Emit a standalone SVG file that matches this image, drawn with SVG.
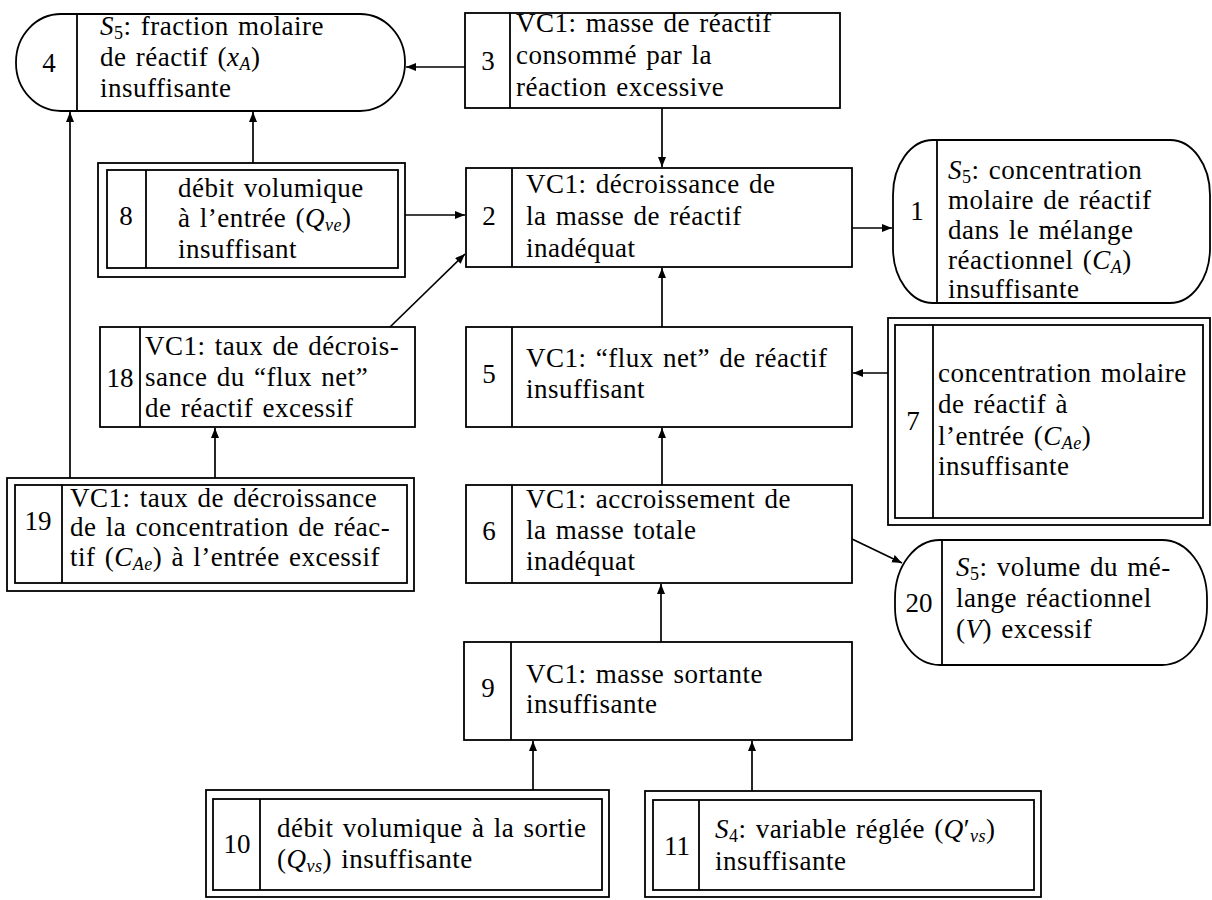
<svg xmlns="http://www.w3.org/2000/svg" width="1212" height="900" viewBox="0 0 1212 900">
<style>
.bg{fill:#fff}
.b{fill:#fff;stroke:#000;stroke-width:1.8}
.d{stroke:#000;stroke-width:1.8;fill:none}
.t{font-family:"Liberation Serif","Times New Roman","DejaVu Serif",serif;font-size:27px;fill:#000;letter-spacing:0.5px;word-spacing:2px}
.n{font-family:"Liberation Serif","Times New Roman","DejaVu Serif",serif;font-size:27px;fill:#000;text-anchor:middle}
.i{font-style:italic}
.s{font-size:18px}
.si{font-size:18px;font-style:italic}
.c{stroke:#000;stroke-width:1.7;fill:none;marker-end:url(#ah)}
</style>
<defs>
<marker id="ah" markerUnits="userSpaceOnUse" markerWidth="12" markerHeight="10" refX="10" refY="4" orient="auto">
<path d="M0,0 L10,4 L0,8 z" fill="#000"/>
</marker>
</defs>
<rect class="bg" x="0" y="0" width="1212" height="900"/>

<g id="connectors">
<line class="c" x1="465" y1="67" x2="406" y2="67"/>
<line class="c" x1="662" y1="108" x2="662" y2="167"/>
<line class="c" x1="253" y1="163" x2="253" y2="112"/>
<line class="c" x1="405" y1="215" x2="465" y2="215"/>
<line class="c" x1="852" y1="228" x2="892" y2="228"/>
<line class="c" x1="390" y1="327" x2="465" y2="254"/>
<line class="c" x1="662" y1="327" x2="662" y2="268"/>
<line class="c" x1="888" y1="373" x2="853" y2="373"/>
<line class="c" x1="70" y1="478" x2="70" y2="112"/>
<line class="c" x1="215" y1="478" x2="215" y2="428"/>
<line class="c" x1="662" y1="485" x2="662" y2="428"/>
<line class="c" x1="852" y1="539" x2="902" y2="563"/>
<line class="c" x1="661" y1="642" x2="661" y2="584"/>
<line class="c" x1="533" y1="790" x2="533" y2="741"/>
<line class="c" x1="752" y1="791" x2="752" y2="741"/>
</g>

<g id="node4">
<rect class="b" x="16" y="14" width="389" height="97" rx="45" ry="48"/>
<line class="d" x1="77" y1="14" x2="77" y2="111"/>
<text class="n" x="49" y="72">4</text>
<text class="t" x="100" y="35"><tspan class="i">S</tspan><tspan class="s" dy="4">5</tspan><tspan dy="-4">: fraction molaire</tspan></text>
<text class="t" x="100" y="66">de réactif (<tspan class="i">x</tspan><tspan class="si" dy="4">A</tspan><tspan dy="-4">)</tspan></text>
<text class="t" x="100" y="97">insuffisante</text>
</g>

<g id="node3">
<rect class="b" x="465" y="13" width="375" height="95"/>
<line class="d" x1="510" y1="13" x2="510" y2="108"/>
<text class="n" x="488" y="70">3</text>
<text class="t" x="516" y="32">VC1: masse de réactif</text>
<text class="t" x="516" y="64">consommé par la</text>
<text class="t" x="516" y="96">réaction excessive</text>
</g>

<g id="node8">
<rect class="b" x="98" y="163" width="307" height="114"/>
<rect class="b" x="107" y="170" width="291" height="98"/>
<line class="d" x1="146" y1="170" x2="146" y2="268"/>
<text class="n" x="126" y="225">8</text>
<text class="t" x="178" y="197">débit volumique</text>
<text class="t" x="178" y="227">à l’entrée (<tspan class="i">Q</tspan><tspan class="si" dy="4">ve</tspan><tspan dy="-4">)</tspan></text>
<text class="t" x="178" y="258">insuffisant</text>
</g>

<g id="node2">
<rect class="b" x="466" y="168" width="386" height="99"/>
<line class="d" x1="512" y1="168" x2="512" y2="267"/>
<text class="n" x="489" y="225">2</text>
<text class="t" x="526" y="193">VC1: décroissance de</text>
<text class="t" x="526" y="225">la masse de réactif</text>
<text class="t" x="526" y="257">inadéquat</text>
</g>

<g id="node1">
<rect class="b" x="893" y="140" width="317" height="163" rx="40" ry="55"/>
<line class="d" x1="937" y1="140" x2="937" y2="303"/>
<text class="n" x="917" y="220">1</text>
<text class="t" x="948" y="179"><tspan class="i">S</tspan><tspan class="s" dy="4">5</tspan><tspan dy="-4">: concentration</tspan></text>
<text class="t" x="948" y="209">molaire de réactif</text>
<text class="t" x="948" y="239">dans le mélange</text>
<text class="t" x="948" y="269">réactionnel (<tspan class="i">C</tspan><tspan class="si" dy="4">A</tspan><tspan dy="-4">)</tspan></text>
<text class="t" x="948" y="298">insuffisante</text>
</g>

<g id="node18">
<rect class="b" x="100" y="327" width="315" height="100"/>
<line class="d" x1="140" y1="327" x2="140" y2="427"/>
<text class="n" x="120" y="387">18</text>
<text class="t" x="145" y="355">VC1: taux de décrois-</text>
<text class="t" x="145" y="386">sance du “flux net”</text>
<text class="t" x="145" y="417">de réactif excessif</text>
</g>

<g id="node5">
<rect class="b" x="466" y="327" width="386" height="100"/>
<line class="d" x1="512" y1="327" x2="512" y2="427"/>
<text class="n" x="489" y="383">5</text>
<text class="t" x="526" y="367">VC1: “flux net” de réactif</text>
<text class="t" x="526" y="398">insuffisant</text>
</g>

<g id="node7">
<rect class="b" x="888" y="318" width="322" height="207"/>
<rect class="b" x="895" y="325" width="308" height="193"/>
<line class="d" x1="933" y1="325" x2="933" y2="518"/>
<text class="n" x="913" y="430">7</text>
<text class="t" x="938" y="382">concentration molaire</text>
<text class="t" x="938" y="413">de réactif à</text>
<text class="t" x="938" y="445">l’entrée (<tspan class="i">C</tspan><tspan class="si" dy="4">Ae</tspan><tspan dy="-4">)</tspan></text>
<text class="t" x="938" y="475">insuffisante</text>
</g>

<g id="node19">
<rect class="b" x="7" y="478" width="407" height="113"/>
<rect class="b" x="15" y="485" width="392" height="98"/>
<line class="d" x1="62" y1="485" x2="62" y2="583"/>
<text class="n" x="38" y="530">19</text>
<text class="t" x="70" y="507">VC1: taux de décroissance</text>
<text class="t" x="70" y="536">de la concentration de réac-</text>
<text class="t" x="70" y="566">tif (<tspan class="i">C</tspan><tspan class="si" dy="4">Ae</tspan><tspan dy="-4">) à l’entrée excessif</tspan></text>
</g>

<g id="node6">
<rect class="b" x="466" y="485" width="386" height="98"/>
<line class="d" x1="512" y1="485" x2="512" y2="583"/>
<text class="n" x="489" y="540">6</text>
<text class="t" x="526" y="508">VC1: accroissement de</text>
<text class="t" x="526" y="539">la masse totale</text>
<text class="t" x="526" y="570">inadéquat</text>
</g>

<g id="node20">
<rect class="b" x="895" y="540" width="312" height="125" rx="45" ry="58"/>
<line class="d" x1="942" y1="540" x2="942" y2="665"/>
<text class="n" x="919" y="612">20</text>
<text class="t" x="956" y="576"><tspan class="i">S</tspan><tspan class="s" dy="4">5</tspan><tspan dy="-4">: volume du mé-</tspan></text>
<text class="t" x="956" y="607">lange réactionnel</text>
<text class="t" x="956" y="638">(<tspan class="i">V</tspan>) excessif</text>
</g>

<g id="node9">
<rect class="b" x="464" y="642" width="388" height="98"/>
<line class="d" x1="511" y1="642" x2="511" y2="740"/>
<text class="n" x="488" y="697">9</text>
<text class="t" x="526" y="683">VC1: masse sortante</text>
<text class="t" x="526" y="713">insuffisante</text>
</g>

<g id="node10">
<rect class="b" x="206" y="790" width="403" height="107"/>
<rect class="b" x="213" y="799" width="389" height="91"/>
<line class="d" x1="260" y1="799" x2="260" y2="890"/>
<text class="n" x="237" y="853">10</text>
<text class="t" x="277" y="837">débit volumique à la sortie</text>
<text class="t" x="277" y="868">(<tspan class="i">Q</tspan><tspan class="si" dy="4">vs</tspan><tspan dy="-4">) insuffisante</tspan></text>
</g>

<g id="node11">
<rect class="b" x="645" y="791" width="396" height="106"/>
<rect class="b" x="653" y="800" width="381" height="90"/>
<line class="d" x1="699" y1="800" x2="699" y2="890"/>
<text class="n" x="677" y="855">11</text>
<text class="t" x="715" y="838"><tspan class="i">S</tspan><tspan class="s" dy="4">4</tspan><tspan dy="-4">: variable réglée (</tspan><tspan class="i">Q</tspan><tspan>′</tspan><tspan class="si" dy="4">vs</tspan><tspan dy="-4">)</tspan></text>
<text class="t" x="715" y="870">insuffisante</text>
</g>
</svg>
